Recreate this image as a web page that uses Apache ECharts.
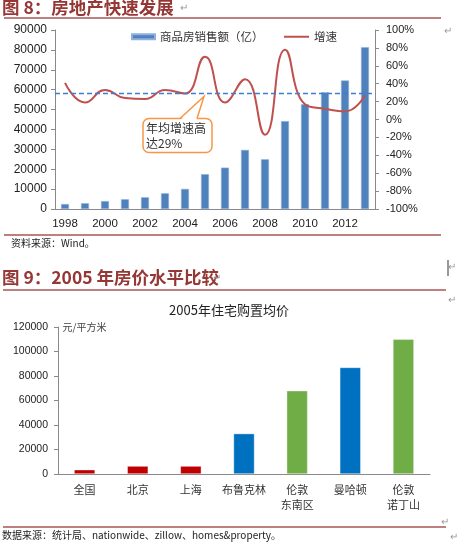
<!DOCTYPE html>
<html><head><meta charset="utf-8">
<script src="https://cdn.jsdelivr.net/npm/echarts@6/dist/echarts.min.js"></script>
<style>html,body{margin:0;padding:0;background:#fff}#c{width:458px;height:542px}</style>
</head><body><div id="c"></div>
<script>
// ---------- data: chart 8 ----------
const years = ['1998','1999','2000','2001','2002','2003','2004','2005','2006','2007','2008','2009','2010','2011','2012','2013'];
const salesValues = [2500, 2900, 4000, 4900, 5900, 7900, 10100, 17500, 20800, 29700, 25000, 44200, 52700, 58700, 64600, 81400];
const growthValues = [41, 19, 33, 24, 23, 33, 29, 70, 19, 45, -17, 78, 17, 12, 9, 27];
const avgGrowth = 29;
const salesName = '商品房销售额（亿）';
const growthName = '增速';
const calloutText = '年均增速高\n达29%';
// ---------- data: chart 9 ----------
const cities = ['全国','北京','上海','布鲁克林','伦敦\n东南区','曼哈顿','伦敦\n诺丁山'];
const cityGroups = ['中国','中国','中国','美国','英国','美国','英国'];
const prices = [3500, 6500, 6500, 33000, 68000, 87000, 110000];
const priceTitle = '2005年住宅购置均价';
const priceUnit = '元/平方米';

// ---------- styles ----------
const groupColor = {'中国':'#C00000','美国':'#0070C0','英国':'#70AD47'};
const FONT = '"Liberation Sans", Arial, "Noto Sans CJK SC", sans-serif';
const CJK = '"Noto Sans CJK SC", "Liberation Sans", sans-serif';
const titleRed = '#953734';
const ruleRed = '#7F0000';
const axisGray = '#898989';
const plain = v => String(v);

const chart = echarts.init(document.getElementById('c'), null, {renderer:'canvas'});

const option = {
  animation: false,
  textStyle: {fontFamily: FONT},
  legend: [
    {
      left: 126, top: 26, itemWidth: 23, itemHeight: 5,
      textStyle: {fontSize: 11.5, color: '#333', fontFamily: CJK},
      data: [{name: salesName, icon: 'rect'}]
    },
    {
      left: 279, top: 26, itemWidth: 25, itemHeight: 2,
      textStyle: {fontSize: 11.5, color: '#333', fontFamily: CJK},
      data: [{name: growthName, icon: 'rect'}]
    }
  ],
  grid: [
    {left: 55, right: 83, top: 30, bottom: 333},
    {left: 58, right: 28, top: 327, bottom: 68}
  ],
  xAxis: [
    {
      gridIndex: 0, type: 'category', data: years, boundaryGap: true,
      axisLine: {lineStyle: {color: axisGray}},
      axisTick: {interval: 1, length: 4, lineStyle: {color: axisGray}},
      axisLabel: {interval: 1, fontSize: 11.5, color: '#222', margin: 9}
    },
    {
      gridIndex: 1, type: 'category', data: cities, boundaryGap: true,
      axisLine: {lineStyle: {color: axisGray}},
      axisTick: {interval: 0, length: 4, lineStyle: {color: axisGray}},
      axisLabel: {interval: 0, fontSize: 11, lineHeight: 15, color: '#333', margin: 8, fontFamily: CJK}
    }
  ],
  yAxis: [
    {
      gridIndex: 0, type: 'value', min: 0, max: 90000, interval: 10000,
      axisLine: {show: true, lineStyle: {color: axisGray}},
      axisTick: {show: true, length: 4, lineStyle: {color: axisGray}},
      axisLabel: {fontSize: 12, color: '#222', margin: 8, formatter: plain},
      splitLine: {show: false}
    },
    {
      gridIndex: 0, type: 'value', position: 'right', min: -100, max: 100, interval: 20,
      axisLine: {show: true, lineStyle: {color: axisGray}},
      axisTick: {show: true, length: 4, lineStyle: {color: axisGray}},
      axisLabel: {fontSize: 11, color: '#222', margin: 11, formatter: '{value}%'},
      splitLine: {show: false}
    },
    {
      gridIndex: 1, type: 'value', min: 0, max: 120000, interval: 20000,
      axisLine: {show: true, lineStyle: {color: axisGray}},
      axisTick: {show: true, length: 4, lineStyle: {color: axisGray}},
      axisLabel: {fontSize: 10.5, color: '#222', margin: 10, formatter: plain},
      splitLine: {show: false}
    }
  ],
  series: [
    {
      name: salesName, type: 'bar', xAxisIndex: 0, yAxisIndex: 0,
      data: salesValues, barWidth: 8,
      itemStyle: {color: '#4F81BD', borderColor: '#8EB0DA', borderWidth: 0.6}
    },
    {
      name: growthName, type: 'line', xAxisIndex: 0, yAxisIndex: 1,
      data: growthValues, smooth: 0.5, symbol: 'none', showSymbol: false,
      lineStyle: {color: '#C0504D', width: 2}, itemStyle: {color: '#C0504D'},
      z: 3,
      markLine: {
        silent: true, symbol: 'none', label: {show: false},
        lineStyle: {type: [5, 3], color: '#3C7FD2', width: 1.3},
        data: [{yAxis: avgGrowth}]
      }
    },
    {
      name: priceTitle, type: 'bar', xAxisIndex: 1, yAxisIndex: 2,
      barWidth: 21,
      data: prices.map((v, i) => ({value: v, itemStyle: {color: groupColor[cityGroups[i]]}})),
      itemStyle: {borderColor: 'rgba(255,255,255,0.6)', borderWidth: 0.6}
    }
  ]
};
chart.setOption(option);

// ----- annotations / page decoration -----
const tip = chart.convertToPixel({xAxisIndex: 0, yAxisIndex: 1}, [years[7], avgGrowth]);
const tx = tip[0] - 1, ty = tip[1] + 3;
const orange = '#F79646';
const g2tl = chart.convertToPixel({xAxisIndex: 1, yAxisIndex: 2}, [cities[0], 120000]);
const g2axis = chart.convertToPixel({yAxisIndex: 2}, 120000);

const para = (x, y) => ({type: 'text', left: x, top: y, style: {text: '↵', fontSize: 10, fill: '#999', fontFamily: FONT}});

chart.setOption({
  graphic: [
    // header 8
    {type: 'text', left: 2, top: -1, style: {text: '图 8：房地产快速发展', fontSize: 17.5, fontWeight: 'bold', fill: titleRed, fontFamily: CJK}},
    para(180, 3),
    {type: 'line', shape: {x1: 4, y1: 18, x2: 441, y2: 18}, style: {stroke: ruleRed, lineWidth: 1.2}},
    para(444, 26),
    // callout
    {type: 'rect', shape: {x: tx - 61, y: ty + 22, width: 69, height: 34, r: 6},
     style: {fill: '#fff', stroke: orange, lineWidth: 1.5}, z: 10},
    {type: 'polygon', shape: {points: [[tx - 23.5, ty + 23.5], [tx, ty], [tx - 7.5, ty + 23.5]]},
     style: {fill: '#fff'}, z: 11},
    {type: 'polyline', shape: {points: [[tx - 24, ty + 22], [tx, ty], [tx - 7, ty + 22]]},
     style: {stroke: orange, lineWidth: 1.5, fill: null}, z: 12},
    {type: 'text', x: tx - 58, y: ty + 24, z: 13,
     style: {text: calloutText, fontSize: 12, lineHeight: 15, fill: '#333', fontFamily: CJK}},
    // source 8
    {type: 'line', shape: {x1: 4, y1: 235, x2: 441, y2: 235}, style: {stroke: ruleRed, lineWidth: 1.2}},
    {type: 'text', left: 11, top: 238, style: {text: '资料来源：Wind。', fontSize: 10, fill: '#222', fontFamily: CJK}},
    // header 9
    {type: 'text', left: 2, top: 269, style: {text: '图 9：2005 年房价水平比较', fontSize: 17.5, fontWeight: 'bold', fill: titleRed, fontFamily: CJK}},
    para(213, 273),
    {type: 'line', shape: {x1: 3, y1: 290, x2: 446, y2: 290}, style: {stroke: ruleRed, lineWidth: 1.2}},
    {type: 'line', shape: {x1: 448, y1: 260, x2: 448, y2: 276}, style: {stroke: '#000', lineWidth: 0.8}},
    para(448, 262),
    para(448, 295),
    // chart 9 title and unit
    {type: 'text', x: 229, y: 310, style: {text: priceTitle, fontSize: 13, fill: '#222', fontFamily: CJK, align: 'center', verticalAlign: 'middle'}},
    {type: 'text', x: g2tl[0] - 22, y: g2axis, style: {text: priceUnit, fontSize: 10, fill: '#444', fontFamily: CJK, verticalAlign: 'middle'}},
    // source 9
    {type: 'line', shape: {x1: 3, y1: 527, x2: 446, y2: 527}, style: {stroke: ruleRed, lineWidth: 1.2}},
    para(441, 517),
    {type: 'text', left: 2, top: 530, style: {text: '数据来源：统计局、nationwide、zillow、homes&property。', fontSize: 10, fill: '#222', fontFamily: CJK}},
    para(450, 532)
  ]
});
</script>
</body></html>
